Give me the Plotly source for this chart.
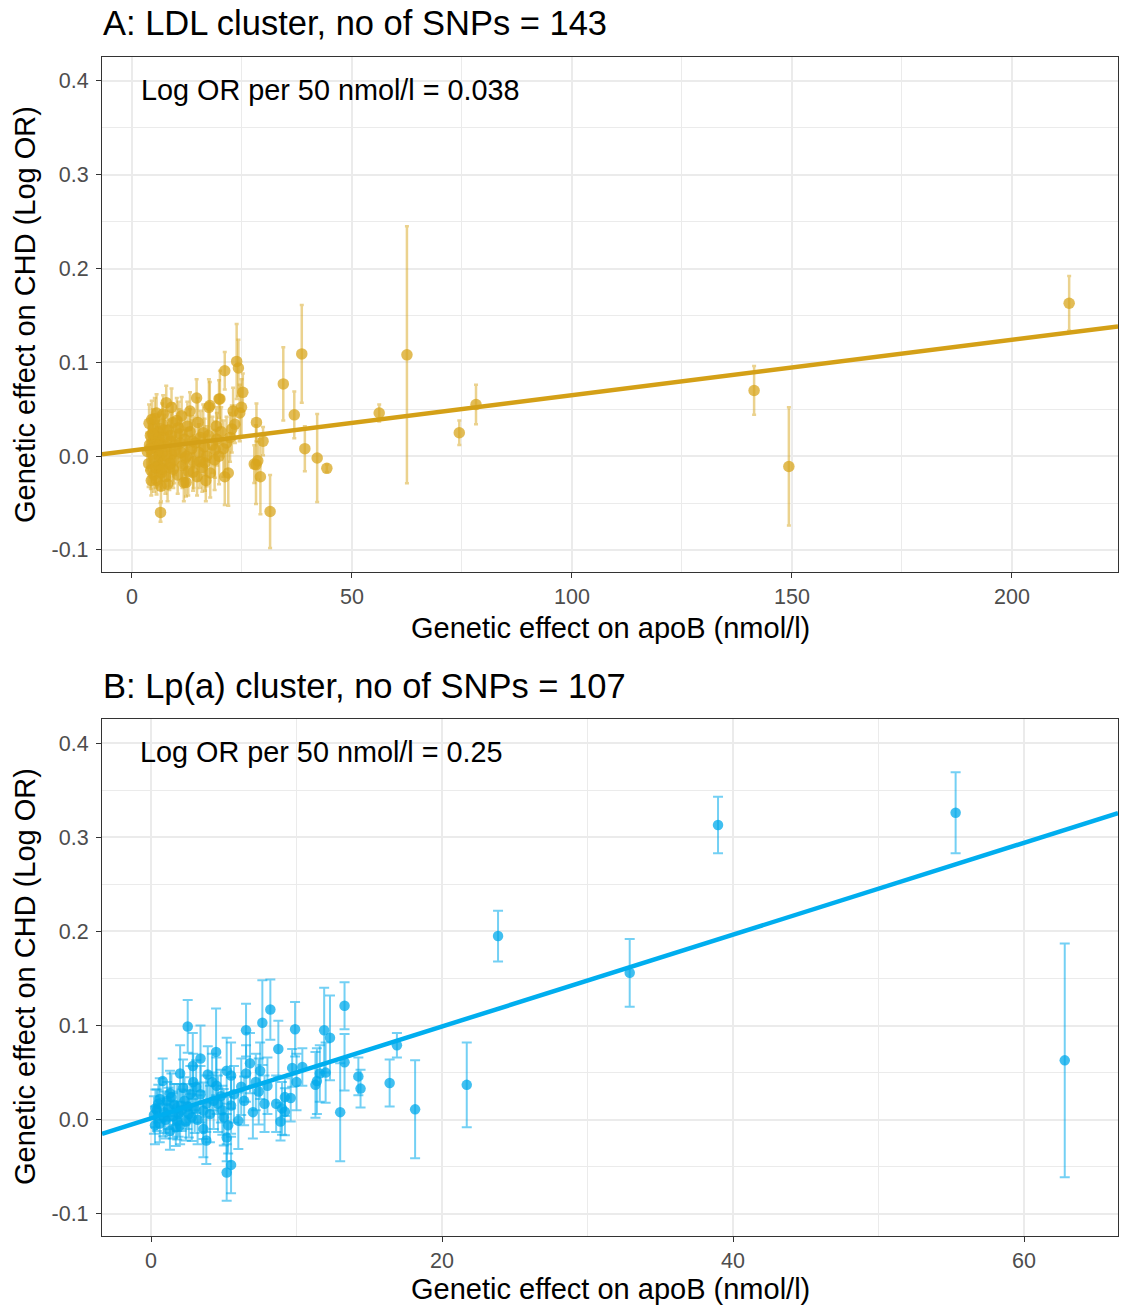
import plotly.graph_objects as go

# ---------------- Panel A data (LDL cluster) ----------------
a_x = [213.0, 149.3, 141.4, 78.2, 74.4, 62.5, 56.2, 44.3, 42.1, 39.3,
       38.6, 36.9, 34.4, 31.4, 29.8, 29.2, 28.3, 28.2, 28.6, 25.2,
       24.9, 24.2, 23.8, 21.1, 21.1, 21.9, 23.0, 23.4, 19.8, 17.7,
       14.7, 9.0, 7.8, 6.5, 12.3, 9.4, 4.5, 5.6, 11.3, 13.2,
       19.2, 20.0, 17.5, 16.2, 18.9, 16.6, 22.7, 24.5, 13.9, 27.8,
       3.5, 3.8, 4.0, 4.2, 4.3, 4.6, 4.8, 5.0, 5.1, 5.3,
       5.5, 5.6, 5.8, 6.0, 6.1, 6.3, 6.5, 6.7, 6.9, 7.0,
       7.2, 7.4, 7.6, 7.8, 8.0, 8.3, 8.5, 8.8, 9.0, 9.3,
       9.6, 10.0, 10.4, 10.8, 11.2, 11.5, 12.0, 12.4, 12.8, 13.2,
       13.6, 14.0, 14.4, 14.8, 15.2, 15.6, 16.0, 16.5, 17.0, 17.4,
       17.8, 18.3, 18.8, 19.3, 19.8, 20.3, 20.8, 21.5, 22.3, 3.9,
       5.2, 6.6, 8.1, 10.2, 11.8, 15.0, 16.8, 7.1, 4.4, 12.6,
       4.1, 5.4, 6.2, 7.3, 8.6, 9.8, 10.6, 12.2, 13.8, 15.4,
       4.7, 5.9, 6.8, 8.9, 11.0]
a_y = [0.163, -0.011, 0.070, 0.055, 0.025, 0.108, 0.046, -0.013, -0.002, 0.008,
       0.109, 0.044, 0.077, -0.059, 0.016, -0.022, 0.036, -0.009, -0.005, 0.068,
       0.052, 0.094, 0.101, 0.091, -0.022, -0.018, 0.048, 0.034, 0.061, 0.054,
       0.062, 0.052, 0.057, -0.060, -0.028, -0.014, 0.039, 0.046, 0.043, 0.048,
       0.032, 0.061, 0.052, 0.025, 0.007, -0.007, 0.029, 0.046, -0.017, -0.0085,
       0.005, -0.008, 0.012, 0.022, -0.015, 0.002, 0.030, -0.020, 0.010, -0.004,
       0.018, -0.026, 0.006, 0.026, -0.010, 0.000, 0.014, -0.018, 0.034, 0.004,
       -0.006, 0.020, -0.022, 0.010, 0.000, 0.028, -0.012, 0.016, 0.002, 0.036,
       -0.004, 0.012, -0.020, 0.024, 0.004, -0.010, 0.018, 0.000, -0.016, 0.026,
       0.008, -0.006, 0.014, -0.022, 0.004, 0.020, -0.012, 0.010, 0.000, 0.022,
       -0.018, 0.012, -0.004, 0.018, 0.000, 0.026, 0.008, 0.014, 0.020, 0.035,
       0.040, -0.032, -0.030, 0.038, -0.028, 0.036, -0.026, 0.045, -0.026, 0.032,
       0.008, -0.012, 0.020, 0.028, -0.008, 0.006, 0.030, -0.002, 0.016, -0.006,
       0.024, 0.012, -0.014, 0.022, 0.014]
a_err = [0.029, 0.063, 0.026, 0.021, 0.013, 0.137, 0.009, 0.004, 0.047, 0.024,
         0.052, 0.025, 0.039, 0.039, 0.015, 0.040, 0.020, 0.042, 0.020, 0.020,
         0.030, 0.030, 0.040, 0.020, 0.030, 0.035, 0.025, 0.020, 0.020, 0.025,
         0.020, 0.020, 0.018, 0.010, 0.015, 0.020, 0.020, 0.020, 0.020, 0.020,
         0.020, 0.030, 0.030, 0.030, 0.030, 0.030, 0.025, 0.030, 0.020, 0.020,
         0.020, 0.025, 0.022, 0.018, 0.020, 0.024, 0.020, 0.018, 0.022, 0.025,
         0.020, 0.015, 0.024, 0.020, 0.022, 0.026, 0.020, 0.018, 0.022, 0.025,
         0.020, 0.024, 0.018, 0.022, 0.026, 0.020, 0.024, 0.022, 0.028, 0.020,
         0.025, 0.022, 0.020, 0.026, 0.030, 0.024, 0.028, 0.030, 0.026, 0.024,
         0.030, 0.028, 0.026, 0.020, 0.030, 0.028, 0.026, 0.030, 0.032, 0.028,
         0.026, 0.030, 0.032, 0.028, 0.030, 0.026, 0.030, 0.028, 0.026, 0.020,
         0.022, 0.016, 0.018, 0.024, 0.020, 0.026, 0.022, 0.020, 0.016, 0.026,
         0.020, 0.022, 0.024, 0.020, 0.024, 0.026, 0.028, 0.030, 0.026, 0.028,
         0.020, 0.022, 0.020, 0.024, 0.026]
a_intercept = 0.006
a_slope = 0.00059

# ---------------- Panel B data (Lp(a) cluster) ----------------
b_x = [62.8, 55.3, 38.97, 32.9, 23.85, 21.7, 18.15, 16.4, 16.9, 14.4,
       14.25, 13.0, 13.3, 13.3, 12.3, 11.9, 11.6, 11.4, 11.3, 10.4,
       9.9, 9.7, 9.6, 9.2, 9.2, 8.9, 8.75, 8.6, 8.2, 7.8,
       7.65, 7.5, 7.4, 7.2, 6.53, 6.53, 6.0, 5.7, 5.5, 5.5,
       5.5, 5.2, 5.2, 5.2, 5.3, 5.0, 4.6, 4.5, 4.47, 4.3,
       4.05, 3.8, 3.8, 3.6, 3.6, 3.4, 3.4, 2.87, 2.8, 2.7,
       2.6, 2.52, 2.3, 2.2, 2.0, 1.8, 1.8, 1.4, 1.3, 1.1,
       0.85, 0.8, 0.5, 0.27, 0.2, 0.4, 0.6, 0.9, 1.0, 1.2,
       1.5, 1.6, 1.7, 1.9, 2.1, 2.4, 2.5, 3.0, 3.1, 3.2,
       4.2, 4.8, 6.2, 6.8, 0.3, 1.3, 2.0, 3.9, 4.9, 7.0,
       8.0, 10.0, 12.0, 9.0, 6.4, 2.9, 0.6]
b_y = [0.063, 0.326, 0.313, 0.156, 0.195, 0.037, 0.011, 0.039, 0.079, 0.033,
       0.046, 0.008, 0.121, 0.061, 0.087, 0.095, 0.049, 0.041, 0.037, 0.056,
       0.096, 0.055, 0.023, 0.024, 0.0085, -0.002, 0.075, 0.017, 0.117, 0.017,
       0.103, 0.052, 0.030, 0.040, 0.095, 0.049, -0.001, 0.027, 0.047, 0.015,
       -0.048, -0.056, 0.052, -0.019, -0.006, 0.0025, 0.017, 0.036, 0.072, 0.020,
       0.006, -0.022, 0.017, -0.010, 0.0096, 0.065, 0.027, 0.057, 0.0025, 0.027,
       0.006, 0.099, 0.020, 0.034, 0.049, 0.013, -0.001, 0.024, -0.012, 0.020,
       0.0025, 0.041, 0.017, -0.006, 0.005, 0.010, -0.004, 0.008, 0.000, 0.012,
       0.004, 0.016, -0.008, 0.006, 0.010, -0.002, 0.014, 0.012, 0.035, 0.000,
       0.040, 0.025, 0.035, 0.060, 0.012, 0.028, -0.006, 0.048, 0.010, 0.008,
       0.036, 0.040, 0.050, 0.012, 0.020, 0.040, 0.022]
b_err = [0.124, 0.043, 0.030, 0.036, 0.027, 0.045, 0.052, 0.025, 0.013, 0.020,
         0.020, 0.052, 0.025, 0.030, 0.045, 0.045, 0.030, 0.035, 0.035, 0.020,
         0.029, 0.020, 0.025, 0.020, 0.025, 0.020, 0.030, 0.030, 0.032, 0.030,
         0.045, 0.030, 0.035, 0.030, 0.028, 0.030, 0.030, 0.030, 0.035, 0.030,
         0.030, 0.030, 0.035, 0.025, 0.030, 0.030, 0.030, 0.030, 0.046, 0.030,
         0.030, 0.025, 0.030, 0.030, 0.030, 0.035, 0.030, 0.035, 0.025, 0.030,
         0.025, 0.028, 0.025, 0.030, 0.030, 0.025, 0.020, 0.025, 0.020, 0.020,
         0.020, 0.024, 0.020, 0.020, 0.020, 0.022, 0.020, 0.022, 0.020, 0.022,
         0.024, 0.022, 0.020, 0.024, 0.022, 0.020, 0.024, 0.026, 0.028, 0.026,
         0.030, 0.028, 0.030, 0.032, 0.020, 0.024, 0.020, 0.030, 0.026, 0.028,
         0.030, 0.030, 0.032, 0.028, 0.026, 0.030, 0.022]
b_intercept = 0.0015
b_slope = 0.004875

# ---------------- Axis definitions ----------------
a_xrange = [-6.8, 224.1]
b_xrange = [-3.37, 66.46]
y_range = [-0.1235, 0.4255]
a_xticks = [0, 50, 100, 150, 200]
a_xminor = [25, 75, 125, 175]
b_xticks = [0, 20, 40, 60]
b_xminor = [10, 30, 50]
y_ticks = [-0.1, 0.0, 0.1, 0.2, 0.3, 0.4]
y_minor = [-0.05, 0.05, 0.15, 0.25, 0.35]
y_ticklabels = ["-0.1", "0.0", "0.1", "0.2", "0.3", "0.4"]

title_a = "A: LDL cluster, no of SNPs = 143"
title_b = "B: Lp(a) cluster, no of SNPs = 107"
label_a = "Log OR per 50 nmol/l = 0.038"
label_b = "Log OR per 50 nmol/l = 0.25"
x_title = "Genetic effect on apoB (nmol/l)"
y_title = "Genetic effect on CHD (Log OR)"

GOLD = "#D4A017"
BLUE = "#00AEEF"
W, H = 1121, 1306
FONT = "Liberation Sans, Arial, sans-serif"


def px(x):
    return x / W


def py(y):
    return 1 - y / H


fig = go.Figure()

# Panel A points
fig.add_trace(go.Scatter(
    x=a_x, y=a_y, mode="markers", xaxis="x", yaxis="y",
    marker=dict(size=11.5, color="rgba(216,165,30,0.75)", line=dict(width=0)),
    error_y=dict(type="data", array=a_err, visible=True,
                 color="rgba(216,165,30,0.5)", thickness=2.5, width=2),
    showlegend=False, hoverinfo="skip"))
# Panel A line
fig.add_trace(go.Scatter(
    x=a_xrange, y=[a_intercept + a_slope * v for v in a_xrange],
    mode="lines", xaxis="x", yaxis="y",
    line=dict(color=GOLD, width=4.5), showlegend=False, hoverinfo="skip"))

# Panel B points
fig.add_trace(go.Scatter(
    x=b_x, y=b_y, mode="markers", xaxis="x2", yaxis="y2",
    marker=dict(size=10.5, color="rgba(0,170,235,0.75)", line=dict(width=0)),
    error_y=dict(type="data", array=b_err, visible=True,
                 color="rgba(0,170,235,0.55)", thickness=2, width=5),
    showlegend=False, hoverinfo="skip"))
# Panel B line
fig.add_trace(go.Scatter(
    x=b_xrange, y=[b_intercept + b_slope * v for v in b_xrange],
    mode="lines", xaxis="x2", yaxis="y2",
    line=dict(color=BLUE, width=4.5), showlegend=False, hoverinfo="skip"))

x_dom = [px(102), px(1118)]
a_ydom = [py(572), py(57)]
b_ydom = [py(1236), py(719)]

grid = "#EBEBEB"
tickfont = dict(family=FONT, size=21.5, color="#4D4D4D")
common = dict(showline=True, linecolor="#333333", linewidth=1.2, mirror=True,
              ticks="outside", ticklen=5, tickcolor="#333333", tickwidth=1.2,
              showgrid=True, gridcolor=grid, gridwidth=1.6, zeroline=False,
              tickfont=tickfont)


def minor(vals):
    return dict(tickvals=vals, showgrid=True, gridcolor=grid, gridwidth=0.8, ticks="")


fig.update_layout(
    width=W, height=H,
    margin=dict(l=0, r=0, t=0, b=0),
    paper_bgcolor="white", plot_bgcolor="white",
    font=dict(family=FONT),
    xaxis=dict(domain=x_dom, anchor="y", range=a_xrange, tickvals=a_xticks,
               minor=minor(a_xminor), **common),
    yaxis=dict(domain=a_ydom, anchor="x", range=y_range, tickvals=y_ticks,
               ticktext=y_ticklabels, minor=minor(y_minor), ticklabelstandoff=3,
               **common),
    xaxis2=dict(domain=x_dom, anchor="y2", range=b_xrange, tickvals=b_xticks,
                minor=minor(b_xminor), **common),
    yaxis2=dict(domain=b_ydom, anchor="x2", range=y_range, tickvals=y_ticks,
                ticktext=y_ticklabels, minor=minor(y_minor), ticklabelstandoff=3,
                **common),
)

ann = []
# Panel titles
for txt, yc in ((title_a, 23), (title_b, 686)):
    ann.append(dict(text=txt, x=px(101), y=py(yc), xref="paper", yref="paper",
                    xanchor="left", yanchor="middle", showarrow=False,
                    font=dict(family=FONT, size=34.5, color="black")))
# Inside labels
for txt, xl, yc in ((label_a, 139, 90), (label_b, 138, 752)):
    ann.append(dict(text=txt, x=px(xl), y=py(yc), xref="paper", yref="paper",
                    xanchor="left", yanchor="middle", showarrow=False,
                    font=dict(family=FONT, size=28.8, color="black")))
# Axis titles
for yc in (628, 1289):
    ann.append(dict(text=x_title, x=px(610), y=py(yc), xref="paper", yref="paper",
                    xanchor="center", yanchor="middle", showarrow=False,
                    font=dict(family=FONT, size=29, color="black")))
for yc in (315, 977):
    ann.append(dict(text=y_title, x=px(25), y=py(yc), xref="paper", yref="paper",
                    xanchor="center", yanchor="middle", showarrow=False, textangle=-90,
                    font=dict(family=FONT, size=29, color="black")))
fig.update_layout(annotations=ann)

fig.write_html(
    "out.html",
    config={"displayModeBar": False},
    post_script="document.body.style.margin='0px';document.body.style.overflow='hidden';")
